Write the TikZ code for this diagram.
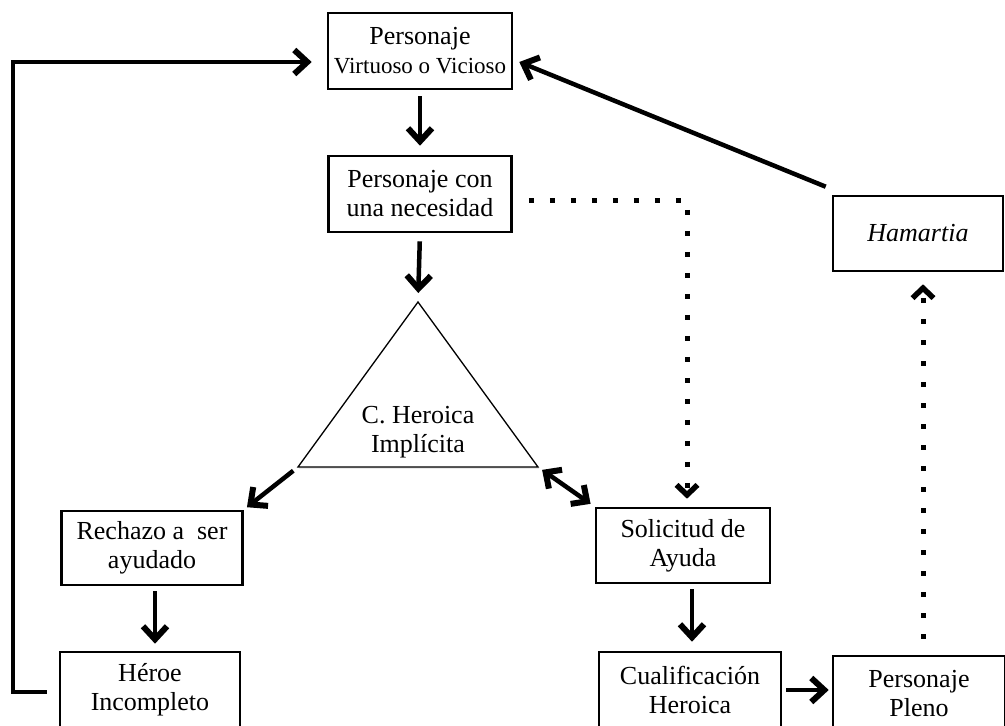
\documentclass[tikz,border=0pt]{standalone}
\usepackage{fontspec}
\setmainfont{Liberation Serif}
\usetikzlibrary{arrows.meta,calc,shadows}
\begin{document}
\begin{tikzpicture}[x=1pt,y=-1pt,
  box/.style={draw,line width=2.6pt,minimum height=76pt,inner sep=0pt,align=center,font=\fontsize{26}{29}\selectfont},
  arr/.style={line width=4.5pt,-{Straight Barb[length=13pt,width=24pt,line width=1.5pt 1]}},
  dbl/.style={line width=4.5pt,{Straight Barb[length=12pt,width=23pt,line width=1.5pt 1]}-{Straight Barb[length=12pt,width=23pt,line width=1.5pt 1]}},
  dotarr/.style={line width=5pt,dash pattern=on 5pt off 16pt,-{Straight Barb[length=10pt,width=21pt,line width=0.5pt 1]}}]
\useasboundingbox (0,0) rectangle (1005,726);
\clip (0,0) rectangle (1005,726);
% boxes
\node[box,minimum width=184pt] (top) at (420,51) {\fontsize{26}{23}\selectfont Personaje\\\fontsize{23}{23}\selectfont Virtuoso o Vicioso};
\node[box,minimum width=183pt] (box2) at (420,194) {Personaje con\\una necesidad};
\node[box,minimum width=170pt,minimum height=75pt] (ham) at (918,233.5) {\itshape Hamartia};
\node[box,minimum width=181pt,minimum height=74pt] (rech) at (152,548) {Rechazo a\ \ ser\\ayudado};
\node[box,minimum width=174pt,minimum height=75pt] (sol) at (683,545.5) {Solicitud de\\Ayuda};
\node[box,minimum width=180pt] (hero) at (150,690) {Héroe\\Incompleto};
\node[box,minimum width=182pt] (cual) at (690,690) {Cualificación\\Heroica};
\node[box,minimum width=172pt] (pleno) at (919,694) {Personaje\\Pleno};
% triangle
\coordinate (apex) at (418,302);
\coordinate (bl) at (298,467);
\coordinate (br) at (538,467);
\path[draw,line width=1.3pt,fill=white,drop shadow={shadow xshift=1pt,shadow yshift=-1.5pt,opacity=0.25}] (apex) -- (br) -- (bl) -- cycle;
\node[font=\fontsize{26}{29}\selectfont,align=center] (heroica) at (418,432) {C. Heroica\\Implícita};
% solid arrows
\draw[arr,shorten <=6pt,shorten >=9pt] (top.south) -- (box2.north);
\draw[arr,shorten <=8pt,shorten >=9pt] (box2.south) -- (apex);
\draw[arr,shorten <=6pt,shorten >=4pt] (bl) -- (rech.north east);
\draw[dbl,shorten <=5pt,shorten >=5pt] (br) -- (sol.north west);
\draw[arr,shorten <=5pt,shorten >=7pt] ($(rech.south)+(3,0)$) -- ($(rech.south |- hero.north)+(3,0)$);
\draw[arr,shorten <=5pt,shorten >=9pt] ($(sol.south -| cual.north)+(2,0)$) -- ($(cual.north)+(2,0)$);
\draw[arr,shorten <=4pt,shorten >=3pt] (cual.east) -- (cual.east -| pleno.west);
\coordinate (lc1) at (13,692);
\coordinate (lc2) at (13,62);
\draw[arr] ($(hero.west)+(-12,2)$) -- (lc1) -- (lc2) -- ($(top.west)+(-15,11)$);
\draw[arr] ($(ham.north west)+(-6,-8)$) -- ($(top.east)+(6,11)$);
% dotted arrows
\draw[dotarr] ($(box2.east)+(16,6)$) -| ($(sol.north)+(4,-8)$);
\draw[dotarr] ($(pleno.north)+(4,-16)$) -- ($(ham.south)+(5,12)$);
\end{tikzpicture}
\end{document}
